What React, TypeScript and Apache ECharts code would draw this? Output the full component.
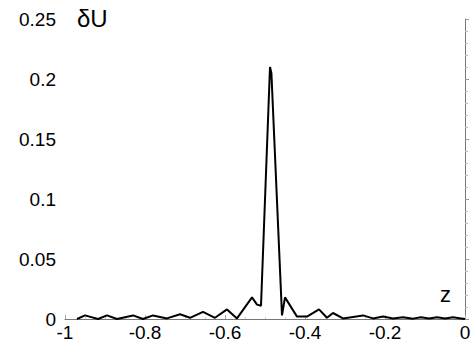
import React, { useEffect, useRef } from "react";
import * as echarts from "echarts";

const zValues = [
  -0.97, -0.95, -0.9175, -0.895, -0.87, -0.83, -0.805, -0.78, -0.745, -0.7125,
  -0.6875, -0.655, -0.625, -0.595, -0.57, -0.5325, -0.52, -0.51, -0.4875, -0.484,
  -0.4575, -0.45, -0.42, -0.395, -0.365, -0.345, -0.33, -0.305, -0.255, -0.23,
  -0.205, -0.18, -0.155, -0.13, -0.11, -0.09, -0.07, -0.05, -0.03, -0.01, 0,
];
const dUValues = [
  0, 0.003, 0, 0.003, 0, 0.003, 0, 0.003, 0.0005, 0.004,
  0.001, 0.006, 0.001, 0.008, 0.0005, 0.018, 0.012, 0.011, 0.21, 0.205,
  0.003, 0.018, 0.002, 0.002, 0.008, 0.001, 0.005, 0.0005, 0.003, 0.0005,
  0.002, 0.0005, 0.0015, 0.0003, 0.0015, 0.0005, 0.0015, 0.0005, 0.0015, 0.0005, 0,
];
const yLabel = "δU";
const xLabel = "z";

export default function App() {
  const ref = useRef<HTMLDivElement>(null);
  useEffect(() => {
    const chart = echarts.init(ref.current!, null, { renderer: "svg" });
    const font = "Liberation Sans";
    chart.setOption({
      animation: false,
      backgroundColor: "#ffffff",
      grid: { left: 65, right: 10, top: 19, bottom: 24, containLabel: false },
      xAxis: {
        type: "value",
        min: -1,
        max: 0,
        interval: 0.2,
        axisLine: { show: true, lineStyle: { color: "#777", width: 1 } },
        axisTick: { show: true, inside: true, length: 4, lineStyle: { color: "#aaa" } },
        minorTick: { show: true, splitNumber: 4, length: 2, lineStyle: { color: "#ccc" } },
        splitLine: { show: false },
        axisLabel: { color: "#000", fontSize: 19, fontFamily: font, margin: 4 },
      },
      yAxis: {
        type: "value",
        min: 0,
        max: 0.25,
        interval: 0.05,
        axisLine: { show: true, lineStyle: { color: "#777", width: 1 } },
        axisTick: { show: true, inside: true, length: 4, lineStyle: { color: "#999" } },
        minorTick: { show: true, splitNumber: 5, length: 3, lineStyle: { color: "#bbb" } },
        splitLine: { show: false },
        axisLabel: { color: "#000", fontSize: 19, fontFamily: font, margin: 9 },
      },
      graphic: [
        { type: "text", left: 77, top: 6, style: { text: yLabel, fontSize: 24, fontFamily: font, fill: "#000" } },
        { type: "text", left: 440, top: 283, style: { text: xLabel, fontSize: 22, fontFamily: font, fill: "#000" } },
      ],
      series: [
        {
          type: "line",
          data: zValues.map((z, i) => [z, dUValues[i]]),
          showSymbol: false,
          lineStyle: { color: "#000", width: 2 },
          smooth: false,
        },
      ],
    });
    return () => chart.dispose();
  }, []);
  return <div ref={ref} style={{ width: 475, height: 343, position: "absolute", left: 0, top: 0 }} />;
}
